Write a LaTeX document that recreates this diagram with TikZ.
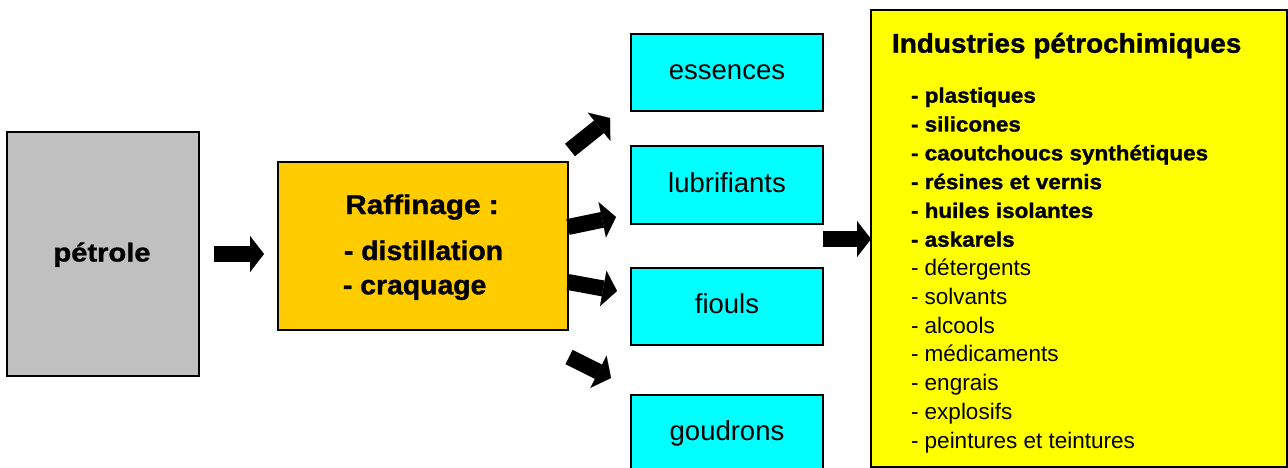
\documentclass[tikz,border=0pt]{standalone}
\usepackage{fontspec}
\setmainfont{Liberation Sans}[BoldFeatures={FakeBold=1.2}]
\usepackage{graphicx}
\usetikzlibrary{arrows.meta,calc}
\definecolor{petgray}{HTML}{C0C0C0}
\definecolor{raforange}{HTML}{FFCC00}
\definecolor{cyanbox}{HTML}{00FFFF}
\definecolor{indyellow}{HTML}{FFFF00}
\newcommand{\widetext}[2][1.12]{\scalebox{#1}[1]{#2}}
\begin{document}
\begin{tikzpicture}[x=1pt,y=-1pt,
  box/.style={draw=black,line width=2pt,rectangle,inner sep=0pt},
  cyanstyle/.style={box,fill=cyanbox,minimum width=192pt,minimum height=77pt,
    font=\fontsize{27.5}{30}\selectfont,text height=19.8pt,text depth=5.5pt},
  blockarrow/.style={draw=black,line width=16pt,
    -{Triangle[length=14pt,width=36pt,line width=0.1pt]}},
  txt/.style={inner sep=0pt,outer sep=0pt,anchor=base},
  ]
\path[fill=white,use as bounding box] (0,0) rectangle (1288,468);

% boxes
\node[box,fill=petgray,minimum width=192pt,minimum height=244pt] (petrole) at (103,254) {};
\node[txt] (petroletxt) at (102,261.5) {\fontsize{26}{30}\selectfont\bfseries\widetext{pétrole}};

\node[box,fill=raforange,minimum width=290pt,minimum height=168pt] (raff) at (423,246) {};
\node[txt] (raf1) at (422,214) {\fontsize{27}{30}\selectfont\bfseries\widetext[1.1]{Raffinage :}};
\node[txt,anchor=base west] (raf2) at (344,260) {\fontsize{27}{30}\selectfont\bfseries\widetext[1.05]{- distillation}};
\node[txt,anchor=base west] (raf3) at (343,294.3) {\fontsize{27}{30}\selectfont\bfseries\widetext[1.05]{- craquage}};

\node[cyanstyle] (ess) at (727,72.5) {essences};
\node[cyanstyle] (lub) at (727,185) {lubrifiants};
\node[cyanstyle] (fio) at (727,306.5) {fiouls};
\node[cyanstyle] (gou) at (727,433.5) {goudrons};

\node[box,fill=indyellow,minimum width=416pt,minimum height=457pt] (ind) at (1079,238.5) {};
\node[txt,anchor=base west] (title) at (892,52.7) {\fontsize{27}{30}\selectfont\bfseries\widetext[1.035]{Industries pétrochimiques}};
\foreach \t [count=\i from 0] in {plastiques,silicones,caoutchoucs synthétiques,résines et vernis,huiles isolantes,askarels}
  \node[txt,anchor=base west] (b\i) at (911,102.7+28.8*\i) {\fontsize{21}{24}\selectfont\bfseries\widetext[1.07]{- \t}};
\foreach \t [count=\i from 6] in {détergents,solvants,alcools,médicaments,engrais,explosifs,peintures et teintures}
  \node[txt,anchor=base west] (r\i) at (911,102.7+28.8*\i) {\fontsize{22.5}{26}\selectfont - \t};

% arrows
\draw[blockarrow] ($(petrole.east)+(14,0)$) -- ($(raff.west)+(-13,8)$);
\draw[blockarrow] ($(raff.north east)+(1,-11)$) -- ($(ess.south west)+(-20,6)$);
\draw[blockarrow] ($(raff.east)+(-1,-19)$) -- ($(lub.west)+(-14,32)$);
\draw[blockarrow] ($(raff.east)+(-1,36)$) -- ($(fio.west)+(-13,-15.5)$);
\draw[blockarrow] ($(raff.south east)+(0,26)$) -- ($(gou.north west)+(-19,-16)$);
\draw[blockarrow] ($(ind.west)+(-47,0.5)$) -- ($(ind.west)+(1,0.5)$);
\end{tikzpicture}
\end{document}
